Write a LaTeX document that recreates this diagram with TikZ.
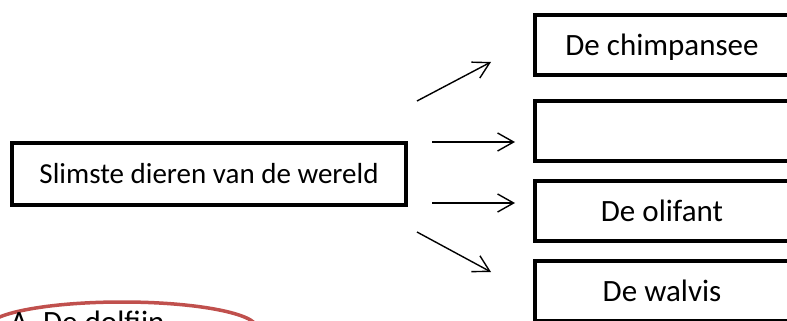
\documentclass[tikz,border=0pt]{standalone}
\usepackage{fontspec}
\setmainfont{Carlito}
\usetikzlibrary{arrows.meta,positioning,shapes.geometric}
\definecolor{ellred}{RGB}{192,80,77}

\begin{document}
\begin{tikzpicture}[x=1pt,y=-1pt,
  box/.style={draw,line width=4pt,minimum width=400pt,minimum height=60pt,inner sep=0pt},
  txt/.style={inner sep=0pt,font=\fontsize{31}{36}\selectfont},
  arr/.style={line width=1.4pt,-{Straight Barb[length=16pt,width=18pt,line width=1.4pt]}}]
  \useasboundingbox (0,0) rectangle (787,321);
  \clip (-5,-5) rectangle (792,326);
  %left
  \node[box,minimum width=394pt,minimum height=62pt,font=\fontsize{29}{34}\selectfont] (main) at (209,174) {Slimste dieren van de wereld};
  %right
  \node[box] (chimp) at (735,45.5) {};
  \node[box] (empty) at (735,131) {};
  \node[box] (olif) at (735,210.5) {};
  \node[box] (walv) at (735,291) {};
  \node[txt] (chimpt) at ([xshift=129pt,yshift=-2pt]chimp.west) {De chimpansee};
  \node[txt] (olift) at ([xshift=129pt]olif.west) {De olifant};
  \node[txt] (walvt) at ([xshift=129pt]walv.west) {De walvis};
  %arrows
  \coordinate (a1) at (417,101);
  \coordinate (b1) at (491,62);
  \coordinate (a2) at (432,142);
  \coordinate (b2) at (515,142);
  \coordinate (a3) at (432,203);
  \coordinate (b3) at (515,203);
  \coordinate (a4) at (417,232);
  \coordinate (b4) at (491,272);
  \draw[arr] (a1) -- (b1);
  \draw[arr] (a2) -- (b2);
  \draw[arr] (a3) -- (b3);
  \draw[arr] (a4) -- (b4);
  %answer
  \node[draw=ellred,line width=3.5pt,ellipse,minimum width=270pt,minimum height=52pt] (ans) at (122,328) {};
  \node[anchor=base west,inner sep=0pt,font=\fontsize{31}{36}\selectfont] (anst) at (10,332) {A. De dolfijn};
\end{tikzpicture}
\end{document}
